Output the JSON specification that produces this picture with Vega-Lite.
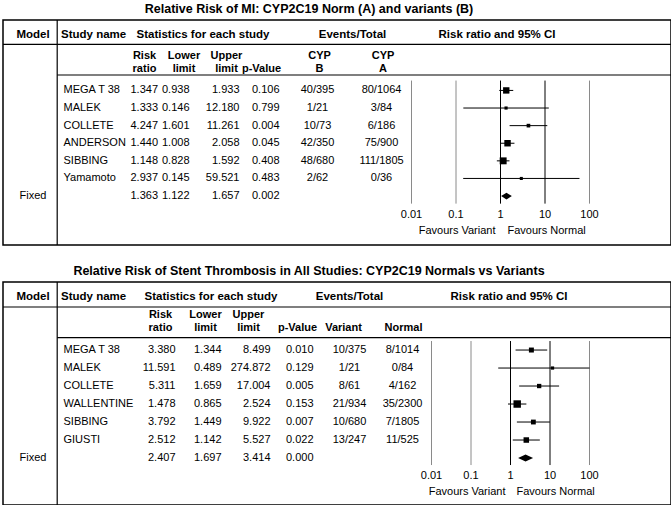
{
  "$schema": "https://vega.github.io/schema/vega-lite/v6.json",
  "background": "white",
  "padding": {"left": 1, "top": 2, "right": 1, "bottom": 1},
  "spacing": 17,
  "config": {
    "font": "Liberation Sans",
    "view": {"stroke": "black", "strokeWidth": 1.5},
    "mark": {"color": "black"},
    "text": {"fontSize": 11, "color": "black"},
    "title": {"fontSize": 12.5, "fontWeight": "bold", "color": "black", "anchor": "middle", "offset": 4, "dx": -28}
  },
  "datasets": {
    "one": [{"k": 1}],
    "ticks": [{"v": 0.01}, {"v": 0.1}, {"v": 1}, {"v": 10}, {"v": 100}],
    "mi": [
      {"row": 1, "study": "MEGA T 38", "rr": 1.347, "lower": 0.938, "upper": 1.933, "p": 0.106, "evB": "40/395", "evA": "80/1064", "weight": 29.2},
      {"row": 2, "study": "MALEK", "rr": 1.333, "lower": 0.146, "upper": 12.18, "p": 0.799, "evB": "1/21", "evA": "3/84", "weight": 0.8},
      {"row": 3, "study": "COLLETE", "rr": 4.247, "lower": 1.601, "upper": 11.261, "p": 0.004, "evB": "10/73", "evA": "6/186", "weight": 4.0},
      {"row": 4, "study": "ANDERSON", "rr": 1.44, "lower": 1.008, "upper": 2.058, "p": 0.045, "evB": "42/350", "evA": "75/900", "weight": 30.0},
      {"row": 5, "study": "SIBBING", "rr": 1.148, "lower": 0.828, "upper": 1.592, "p": 0.408, "evB": "48/680", "evA": "111/1805", "weight": 35.6},
      {"row": 6, "study": "Yamamoto", "rr": 2.937, "lower": 0.145, "upper": 59.521, "p": 0.483, "evB": "2/62", "evA": "0/36", "weight": 0.4},
      {"row": 7, "model": "Fixed", "rr": 1.363, "lower": 1.122, "upper": 1.657, "p": 0.002}
    ],
    "st": [
      {"row": 1, "study": "MEGA T 38", "rr": 3.38, "lower": 1.344, "upper": 8.499, "p": 0.01, "variant": "10/375", "normal": "8/1014", "weight": 14.4},
      {"row": 2, "study": "MALEK", "rr": 11.591, "lower": 0.489, "upper": 274.872, "p": 0.129, "variant": "1/21", "normal": "0/84", "weight": 1.2},
      {"row": 3, "study": "COLLETE", "rr": 5.311, "lower": 1.659, "upper": 17.004, "p": 0.005, "variant": "8/61", "normal": "4/162", "weight": 9.0},
      {"row": 4, "study": "WALLENTINE", "rr": 1.478, "lower": 0.865, "upper": 2.524, "p": 0.153, "variant": "21/934", "normal": "35/2300", "weight": 42.6},
      {"row": 5, "study": "SIBBING", "rr": 3.792, "lower": 1.449, "upper": 9.922, "p": 0.007, "variant": "10/680", "normal": "7/1805", "weight": 13.2},
      {"row": 6, "study": "GIUSTI", "rr": 2.512, "lower": 1.142, "upper": 5.527, "p": 0.022, "variant": "13/247", "normal": "11/525", "weight": 19.6},
      {"row": 7, "model": "Fixed", "rr": 2.407, "lower": 1.697, "upper": 3.414, "p": 0.0}
    ]
  },
  "vconcat": [
    {
      "title": {"text": "Relative Risk of MI: CYP2C19 Norm (A) and variants (B)"},
      "width": 668,
      "height": 225,
      "resolve": {"scale": {"x": "independent"}},
      "layer": [
        {
          "layer": [
            {"data": {"name": "one"}, "mark": {"type": "rule", "strokeWidth": 1.2}, "encoding": {"y": {"datum": -1.61, "type": "quantitative", "scale": {"domain": [-3, 9.78], "reverse": true, "nice": false, "zero": false}, "axis": null}}},
            {"data": {"name": "one"}, "mark": {"type": "rule", "strokeWidth": 1.2}, "encoding": {"x": {"datum": 54.2, "type": "quantitative", "scale": {"domain": [0, 668], "nice": false, "zero": false}, "axis": null}, "x2": {"datum": 668}, "y": {"datum": 0.125, "type": "quantitative", "scale": {"domain": [-3, 9.78], "reverse": true, "nice": false, "zero": false}, "axis": null}}},
            {"data": {"name": "one"}, "mark": {"type": "rule", "strokeWidth": 1.2}, "encoding": {"x": {"datum": 54.2, "type": "quantitative", "scale": {"domain": [0, 668], "nice": false, "zero": false}, "axis": null}}},
            {"data": {"name": "one"}, "mark": {"type": "text", "text": "Model", "fontWeight": "bold", "fontSize": 11.5, "align": "center", "baseline": "middle"}, "encoding": {"x": {"datum": 30, "type": "quantitative", "scale": {"domain": [0, 668], "nice": false, "zero": false}, "axis": null}, "y": {"datum": -2.12, "type": "quantitative", "scale": {"domain": [-3, 9.78], "reverse": true, "nice": false, "zero": false}, "axis": null}}},
            {"data": {"name": "one"}, "mark": {"type": "text", "text": "Study name", "fontWeight": "bold", "fontSize": 11.5, "align": "left", "baseline": "middle"}, "encoding": {"x": {"datum": 58, "type": "quantitative", "scale": {"domain": [0, 668], "nice": false, "zero": false}, "axis": null}, "y": {"datum": -2.12, "type": "quantitative", "scale": {"domain": [-3, 9.78], "reverse": true, "nice": false, "zero": false}, "axis": null}}},
            {"data": {"name": "one"}, "mark": {"type": "text", "text": "Statistics for each study", "fontWeight": "bold", "fontSize": 11.5, "align": "center", "baseline": "middle"}, "encoding": {"x": {"datum": 200, "type": "quantitative", "scale": {"domain": [0, 668], "nice": false, "zero": false}, "axis": null}, "y": {"datum": -2.12, "type": "quantitative", "scale": {"domain": [-3, 9.78], "reverse": true, "nice": false, "zero": false}, "axis": null}}},
            {"data": {"name": "one"}, "mark": {"type": "text", "text": "Events/Total", "fontWeight": "bold", "fontSize": 11.5, "align": "center", "baseline": "middle"}, "encoding": {"x": {"datum": 349.5, "type": "quantitative", "scale": {"domain": [0, 668], "nice": false, "zero": false}, "axis": null}, "y": {"datum": -2.12, "type": "quantitative", "scale": {"domain": [-3, 9.78], "reverse": true, "nice": false, "zero": false}, "axis": null}}},
            {"data": {"name": "one"}, "mark": {"type": "text", "text": "Risk ratio and 95% CI", "fontWeight": "bold", "fontSize": 11.5, "align": "center", "baseline": "middle"}, "encoding": {"x": {"datum": 494, "type": "quantitative", "scale": {"domain": [0, 668], "nice": false, "zero": false}, "axis": null}, "y": {"datum": -2.12, "type": "quantitative", "scale": {"domain": [-3, 9.78], "reverse": true, "nice": false, "zero": false}, "axis": null}}},
            {"data": {"name": "one"}, "mark": {"type": "text", "text": ["Risk", "ratio"], "lineHeight": 13, "fontWeight": "bold", "align": "center", "baseline": "middle"}, "encoding": {"x": {"datum": 141.5, "type": "quantitative", "scale": {"domain": [0, 668], "nice": false, "zero": false}, "axis": null}, "y": {"datum": -0.98, "type": "quantitative", "scale": {"domain": [-3, 9.78], "reverse": true, "nice": false, "zero": false}, "axis": null}}},
            {"data": {"name": "one"}, "mark": {"type": "text", "text": ["Lower", "limit"], "lineHeight": 13, "fontWeight": "bold", "align": "center", "baseline": "middle"}, "encoding": {"x": {"datum": 181, "type": "quantitative", "scale": {"domain": [0, 668], "nice": false, "zero": false}, "axis": null}, "y": {"datum": -0.98, "type": "quantitative", "scale": {"domain": [-3, 9.78], "reverse": true, "nice": false, "zero": false}, "axis": null}}},
            {"data": {"name": "one"}, "mark": {"type": "text", "text": ["Upper", "limit"], "lineHeight": 13, "fontWeight": "bold", "align": "center", "baseline": "middle"}, "encoding": {"x": {"datum": 223.5, "type": "quantitative", "scale": {"domain": [0, 668], "nice": false, "zero": false}, "axis": null}, "y": {"datum": -0.98, "type": "quantitative", "scale": {"domain": [-3, 9.78], "reverse": true, "nice": false, "zero": false}, "axis": null}}},
            {"data": {"name": "one"}, "mark": {"type": "text", "text": "p-Value", "fontWeight": "bold", "align": "center", "baseline": "middle"}, "encoding": {"x": {"datum": 258.5, "type": "quantitative", "scale": {"domain": [0, 668], "nice": false, "zero": false}, "axis": null}, "y": {"datum": -0.244, "type": "quantitative", "scale": {"domain": [-3, 9.78], "reverse": true, "nice": false, "zero": false}, "axis": null}}},
            {"data": {"name": "one"}, "mark": {"type": "text", "text": ["CYP", "B"], "lineHeight": 13, "fontWeight": "bold", "align": "center", "baseline": "middle"}, "encoding": {"x": {"datum": 316.5, "type": "quantitative", "scale": {"domain": [0, 668], "nice": false, "zero": false}, "axis": null}, "y": {"datum": -0.98, "type": "quantitative", "scale": {"domain": [-3, 9.78], "reverse": true, "nice": false, "zero": false}, "axis": null}}},
            {"data": {"name": "one"}, "mark": {"type": "text", "text": ["CYP", "A"], "lineHeight": 13, "fontWeight": "bold", "align": "center", "baseline": "middle"}, "encoding": {"x": {"datum": 380, "type": "quantitative", "scale": {"domain": [0, 668], "nice": false, "zero": false}, "axis": null}, "y": {"datum": -0.98, "type": "quantitative", "scale": {"domain": [-3, 9.78], "reverse": true, "nice": false, "zero": false}, "axis": null}}},
            {"data": {"name": "mi"}, "transform": [{"filter": "datum.model"}], "mark": {"type": "text", "align": "center", "baseline": "middle"}, "encoding": {"x": {"datum": 30, "type": "quantitative", "scale": {"domain": [0, 668], "nice": false, "zero": false}, "axis": null}, "y": {"field": "row", "type": "quantitative", "scale": {"domain": [-3, 9.78], "reverse": true, "nice": false, "zero": false}, "axis": null}, "text": {"field": "model"}}},
            {"data": {"name": "mi"}, "transform": [{"filter": "datum.study"}], "mark": {"type": "text", "align": "left", "baseline": "middle"}, "encoding": {"x": {"datum": 60.5, "type": "quantitative", "scale": {"domain": [0, 668], "nice": false, "zero": false}, "axis": null}, "y": {"field": "row", "type": "quantitative", "scale": {"domain": [-3, 9.78], "reverse": true, "nice": false, "zero": false}, "axis": null}, "text": {"field": "study"}}},
            {"data": {"name": "mi"}, "mark": {"type": "text", "align": "right", "baseline": "middle"}, "encoding": {"x": {"datum": 155, "type": "quantitative", "scale": {"domain": [0, 668], "nice": false, "zero": false}, "axis": null}, "y": {"field": "row", "type": "quantitative", "scale": {"domain": [-3, 9.78], "reverse": true, "nice": false, "zero": false}, "axis": null}, "text": {"field": "rr", "type": "quantitative", "format": ".3f"}}},
            {"data": {"name": "mi"}, "mark": {"type": "text", "align": "right", "baseline": "middle"}, "encoding": {"x": {"datum": 186.5, "type": "quantitative", "scale": {"domain": [0, 668], "nice": false, "zero": false}, "axis": null}, "y": {"field": "row", "type": "quantitative", "scale": {"domain": [-3, 9.78], "reverse": true, "nice": false, "zero": false}, "axis": null}, "text": {"field": "lower", "type": "quantitative", "format": ".3f"}}},
            {"data": {"name": "mi"}, "mark": {"type": "text", "align": "right", "baseline": "middle"}, "encoding": {"x": {"datum": 236.5, "type": "quantitative", "scale": {"domain": [0, 668], "nice": false, "zero": false}, "axis": null}, "y": {"field": "row", "type": "quantitative", "scale": {"domain": [-3, 9.78], "reverse": true, "nice": false, "zero": false}, "axis": null}, "text": {"field": "upper", "type": "quantitative", "format": ".3f"}}},
            {"data": {"name": "mi"}, "mark": {"type": "text", "align": "right", "baseline": "middle"}, "encoding": {"x": {"datum": 276.5, "type": "quantitative", "scale": {"domain": [0, 668], "nice": false, "zero": false}, "axis": null}, "y": {"field": "row", "type": "quantitative", "scale": {"domain": [-3, 9.78], "reverse": true, "nice": false, "zero": false}, "axis": null}, "text": {"field": "p", "type": "quantitative", "format": ".3f"}}},
            {"data": {"name": "mi"}, "transform": [{"filter": "datum.evB"}], "mark": {"type": "text", "align": "center", "baseline": "middle"}, "encoding": {"x": {"datum": 314.5, "type": "quantitative", "scale": {"domain": [0, 668], "nice": false, "zero": false}, "axis": null}, "y": {"field": "row", "type": "quantitative", "scale": {"domain": [-3, 9.78], "reverse": true, "nice": false, "zero": false}, "axis": null}, "text": {"field": "evB"}}},
            {"data": {"name": "mi"}, "transform": [{"filter": "datum.evA"}], "mark": {"type": "text", "align": "center", "baseline": "middle"}, "encoding": {"x": {"datum": 378.5, "type": "quantitative", "scale": {"domain": [0, 668], "nice": false, "zero": false}, "axis": null}, "y": {"field": "row", "type": "quantitative", "scale": {"domain": [-3, 9.78], "reverse": true, "nice": false, "zero": false}, "axis": null}, "text": {"field": "evA"}}}
          ]
        },
        {
          "layer": [
            {"data": {"name": "ticks"}, "mark": {"type": "rule", "strokeWidth": 1}, "encoding": {"x": {"field": "v", "type": "quantitative", "scale": {"type": "log", "domain": [0.01, 100], "range": [408.5, 586.5], "clamp": true, "nice": false}, "axis": null}, "y": {"datum": 0.44, "type": "quantitative", "scale": {"domain": [-3, 9.78], "reverse": true, "nice": false, "zero": false}, "axis": null}, "y2": {"datum": 7.43}, "color": {"condition": {"test": "datum.v == 1 || datum.v == 10", "value": "#000000"}, "value": "#8a8a8a"}}},
            {"data": {"name": "mi"}, "mark": {"type": "rule", "strokeWidth": 1}, "transform": [{"filter": "datum.study"}], "encoding": {"x": {"field": "lower", "type": "quantitative", "scale": {"type": "log", "domain": [0.01, 100], "range": [408.5, 586.5], "clamp": true, "nice": false}, "axis": null}, "x2": {"field": "upper"}, "y": {"field": "row", "type": "quantitative", "scale": {"domain": [-3, 9.78], "reverse": true, "nice": false, "zero": false}, "axis": null}}},
            {"data": {"name": "mi"}, "mark": {"type": "square", "filled": true, "opacity": 1}, "transform": [{"filter": "datum.study"}], "encoding": {"x": {"field": "rr", "type": "quantitative", "scale": {"type": "log", "domain": [0.01, 100], "range": [408.5, 586.5], "clamp": true, "nice": false}, "axis": null}, "y": {"field": "row", "type": "quantitative", "scale": {"domain": [-3, 9.78], "reverse": true, "nice": false, "zero": false}, "axis": null}, "size": {"field": "weight", "type": "quantitative", "scale": {"domain": [0, 45], "range": [9, 58]}, "legend": null}}},
            {"data": {"name": "mi"}, "mark": {"type": "point", "shape": "M-1,0L0,-0.62L1,0L0,0.62Z", "filled": true, "opacity": 1, "size": 115}, "transform": [{"filter": "datum.model"}], "encoding": {"x": {"field": "rr", "type": "quantitative", "scale": {"type": "log", "domain": [0.01, 100], "range": [408.5, 586.5], "clamp": true, "nice": false}, "axis": null}, "y": {"field": "row", "type": "quantitative", "scale": {"domain": [-3, 9.78], "reverse": true, "nice": false, "zero": false}, "axis": null}}},
            {"data": {"name": "ticks"}, "mark": {"type": "text", "align": "center", "baseline": "middle"}, "encoding": {"x": {"field": "v", "type": "quantitative", "scale": {"type": "log", "domain": [0.01, 100], "range": [408.5, 586.5], "clamp": true, "nice": false}, "axis": null}, "y": {"datum": 8.05, "type": "quantitative", "scale": {"domain": [-3, 9.78], "reverse": true, "nice": false, "zero": false}, "axis": null}, "text": {"field": "v", "type": "quantitative", "format": "~g"}}},
            {"data": {"name": "one"}, "mark": {"type": "text", "text": "Favours Variant", "align": "right", "baseline": "middle", "dx": -5}, "encoding": {"x": {"datum": 1, "type": "quantitative", "scale": {"type": "log", "domain": [0.01, 100], "range": [408.5, 586.5], "clamp": true, "nice": false}, "axis": null}, "y": {"datum": 8.96, "type": "quantitative", "scale": {"domain": [-3, 9.78], "reverse": true, "nice": false, "zero": false}, "axis": null}}},
            {"data": {"name": "one"}, "mark": {"type": "text", "text": "Favours Normal", "align": "left", "baseline": "middle", "dx": 7}, "encoding": {"x": {"datum": 1, "type": "quantitative", "scale": {"type": "log", "domain": [0.01, 100], "range": [408.5, 586.5], "clamp": true, "nice": false}, "axis": null}, "y": {"datum": 8.96, "type": "quantitative", "scale": {"domain": [-3, 9.78], "reverse": true, "nice": false, "zero": false}, "axis": null}}}
          ]
        }
      ]
    },
    {
      "title": {"text": "Relative Risk of Stent Thrombosis in All Studies: CYP2C19 Normals vs Variants"},
      "width": 668,
      "height": 223,
      "resolve": {"scale": {"x": "independent"}},
      "layer": [
        {
          "layer": [
            {"data": {"name": "one"}, "mark": {"type": "rule", "strokeWidth": 1.2}, "encoding": {"y": {"datum": -1.39, "type": "quantitative", "scale": {"domain": [-2.78, 9.61], "reverse": true, "nice": false, "zero": false}, "axis": null}}},
            {"data": {"name": "one"}, "mark": {"type": "rule", "strokeWidth": 1.2}, "encoding": {"x": {"datum": 54.2, "type": "quantitative", "scale": {"domain": [0, 668], "nice": false, "zero": false}, "axis": null}, "x2": {"datum": 668}, "y": {"datum": 0.305, "type": "quantitative", "scale": {"domain": [-2.78, 9.61], "reverse": true, "nice": false, "zero": false}, "axis": null}}},
            {"data": {"name": "one"}, "mark": {"type": "rule", "strokeWidth": 1.2}, "encoding": {"x": {"datum": 54.2, "type": "quantitative", "scale": {"domain": [0, 668], "nice": false, "zero": false}, "axis": null}}},
            {"data": {"name": "one"}, "mark": {"type": "text", "text": "Model", "fontWeight": "bold", "fontSize": 11.5, "align": "center", "baseline": "middle"}, "encoding": {"x": {"datum": 30, "type": "quantitative", "scale": {"domain": [0, 668], "nice": false, "zero": false}, "axis": null}, "y": {"datum": -1.94, "type": "quantitative", "scale": {"domain": [-2.78, 9.61], "reverse": true, "nice": false, "zero": false}, "axis": null}}},
            {"data": {"name": "one"}, "mark": {"type": "text", "text": "Study name", "fontWeight": "bold", "fontSize": 11.5, "align": "left", "baseline": "middle"}, "encoding": {"x": {"datum": 58, "type": "quantitative", "scale": {"domain": [0, 668], "nice": false, "zero": false}, "axis": null}, "y": {"datum": -1.94, "type": "quantitative", "scale": {"domain": [-2.78, 9.61], "reverse": true, "nice": false, "zero": false}, "axis": null}}},
            {"data": {"name": "one"}, "mark": {"type": "text", "text": "Statistics for each study", "fontWeight": "bold", "fontSize": 11.5, "align": "center", "baseline": "middle"}, "encoding": {"x": {"datum": 208, "type": "quantitative", "scale": {"domain": [0, 668], "nice": false, "zero": false}, "axis": null}, "y": {"datum": -1.94, "type": "quantitative", "scale": {"domain": [-2.78, 9.61], "reverse": true, "nice": false, "zero": false}, "axis": null}}},
            {"data": {"name": "one"}, "mark": {"type": "text", "text": "Events/Total", "fontWeight": "bold", "fontSize": 11.5, "align": "center", "baseline": "middle"}, "encoding": {"x": {"datum": 346.5, "type": "quantitative", "scale": {"domain": [0, 668], "nice": false, "zero": false}, "axis": null}, "y": {"datum": -1.94, "type": "quantitative", "scale": {"domain": [-2.78, 9.61], "reverse": true, "nice": false, "zero": false}, "axis": null}}},
            {"data": {"name": "one"}, "mark": {"type": "text", "text": "Risk ratio and 95% CI", "fontWeight": "bold", "fontSize": 11.5, "align": "center", "baseline": "middle"}, "encoding": {"x": {"datum": 506, "type": "quantitative", "scale": {"domain": [0, 668], "nice": false, "zero": false}, "axis": null}, "y": {"datum": -1.94, "type": "quantitative", "scale": {"domain": [-2.78, 9.61], "reverse": true, "nice": false, "zero": false}, "axis": null}}},
            {"data": {"name": "one"}, "mark": {"type": "text", "text": ["Risk", "ratio"], "lineHeight": 13, "fontWeight": "bold", "align": "center", "baseline": "middle"}, "encoding": {"x": {"datum": 157.5, "type": "quantitative", "scale": {"domain": [0, 668], "nice": false, "zero": false}, "axis": null}, "y": {"datum": -0.947, "type": "quantitative", "scale": {"domain": [-2.78, 9.61], "reverse": true, "nice": false, "zero": false}, "axis": null}}},
            {"data": {"name": "one"}, "mark": {"type": "text", "text": ["Lower", "limit"], "lineHeight": 13, "fontWeight": "bold", "align": "center", "baseline": "middle"}, "encoding": {"x": {"datum": 202.5, "type": "quantitative", "scale": {"domain": [0, 668], "nice": false, "zero": false}, "axis": null}, "y": {"datum": -0.947, "type": "quantitative", "scale": {"domain": [-2.78, 9.61], "reverse": true, "nice": false, "zero": false}, "axis": null}}},
            {"data": {"name": "one"}, "mark": {"type": "text", "text": ["Upper", "limit"], "lineHeight": 13, "fontWeight": "bold", "align": "center", "baseline": "middle"}, "encoding": {"x": {"datum": 245.5, "type": "quantitative", "scale": {"domain": [0, 668], "nice": false, "zero": false}, "axis": null}, "y": {"datum": -0.947, "type": "quantitative", "scale": {"domain": [-2.78, 9.61], "reverse": true, "nice": false, "zero": false}, "axis": null}}},
            {"data": {"name": "one"}, "mark": {"type": "text", "text": "p-Value", "fontWeight": "bold", "align": "center", "baseline": "middle"}, "encoding": {"x": {"datum": 294.5, "type": "quantitative", "scale": {"domain": [0, 668], "nice": false, "zero": false}, "axis": null}, "y": {"datum": -0.22, "type": "quantitative", "scale": {"domain": [-2.78, 9.61], "reverse": true, "nice": false, "zero": false}, "axis": null}}},
            {"data": {"name": "one"}, "mark": {"type": "text", "text": "Variant", "fontWeight": "bold", "align": "center", "baseline": "middle"}, "encoding": {"x": {"datum": 340.5, "type": "quantitative", "scale": {"domain": [0, 668], "nice": false, "zero": false}, "axis": null}, "y": {"datum": -0.22, "type": "quantitative", "scale": {"domain": [-2.78, 9.61], "reverse": true, "nice": false, "zero": false}, "axis": null}}},
            {"data": {"name": "one"}, "mark": {"type": "text", "text": "Normal", "fontWeight": "bold", "align": "center", "baseline": "middle"}, "encoding": {"x": {"datum": 400.5, "type": "quantitative", "scale": {"domain": [0, 668], "nice": false, "zero": false}, "axis": null}, "y": {"datum": -0.22, "type": "quantitative", "scale": {"domain": [-2.78, 9.61], "reverse": true, "nice": false, "zero": false}, "axis": null}}},
            {"data": {"name": "st"}, "transform": [{"filter": "datum.model"}], "mark": {"type": "text", "align": "center", "baseline": "middle"}, "encoding": {"x": {"datum": 30, "type": "quantitative", "scale": {"domain": [0, 668], "nice": false, "zero": false}, "axis": null}, "y": {"field": "row", "type": "quantitative", "scale": {"domain": [-2.78, 9.61], "reverse": true, "nice": false, "zero": false}, "axis": null}, "text": {"field": "model"}}},
            {"data": {"name": "st"}, "transform": [{"filter": "datum.study"}], "mark": {"type": "text", "align": "left", "baseline": "middle"}, "encoding": {"x": {"datum": 60.5, "type": "quantitative", "scale": {"domain": [0, 668], "nice": false, "zero": false}, "axis": null}, "y": {"field": "row", "type": "quantitative", "scale": {"domain": [-2.78, 9.61], "reverse": true, "nice": false, "zero": false}, "axis": null}, "text": {"field": "study"}}},
            {"data": {"name": "st"}, "mark": {"type": "text", "align": "right", "baseline": "middle"}, "encoding": {"x": {"datum": 172.5, "type": "quantitative", "scale": {"domain": [0, 668], "nice": false, "zero": false}, "axis": null}, "y": {"field": "row", "type": "quantitative", "scale": {"domain": [-2.78, 9.61], "reverse": true, "nice": false, "zero": false}, "axis": null}, "text": {"field": "rr", "type": "quantitative", "format": ".3f"}}},
            {"data": {"name": "st"}, "mark": {"type": "text", "align": "right", "baseline": "middle"}, "encoding": {"x": {"datum": 218.5, "type": "quantitative", "scale": {"domain": [0, 668], "nice": false, "zero": false}, "axis": null}, "y": {"field": "row", "type": "quantitative", "scale": {"domain": [-2.78, 9.61], "reverse": true, "nice": false, "zero": false}, "axis": null}, "text": {"field": "lower", "type": "quantitative", "format": ".3f"}}},
            {"data": {"name": "st"}, "mark": {"type": "text", "align": "right", "baseline": "middle"}, "encoding": {"x": {"datum": 267.5, "type": "quantitative", "scale": {"domain": [0, 668], "nice": false, "zero": false}, "axis": null}, "y": {"field": "row", "type": "quantitative", "scale": {"domain": [-2.78, 9.61], "reverse": true, "nice": false, "zero": false}, "axis": null}, "text": {"field": "upper", "type": "quantitative", "format": ".3f"}}},
            {"data": {"name": "st"}, "mark": {"type": "text", "align": "right", "baseline": "middle"}, "encoding": {"x": {"datum": 310.5, "type": "quantitative", "scale": {"domain": [0, 668], "nice": false, "zero": false}, "axis": null}, "y": {"field": "row", "type": "quantitative", "scale": {"domain": [-2.78, 9.61], "reverse": true, "nice": false, "zero": false}, "axis": null}, "text": {"field": "p", "type": "quantitative", "format": ".3f"}}},
            {"data": {"name": "st"}, "transform": [{"filter": "datum.variant"}], "mark": {"type": "text", "align": "center", "baseline": "middle"}, "encoding": {"x": {"datum": 346.5, "type": "quantitative", "scale": {"domain": [0, 668], "nice": false, "zero": false}, "axis": null}, "y": {"field": "row", "type": "quantitative", "scale": {"domain": [-2.78, 9.61], "reverse": true, "nice": false, "zero": false}, "axis": null}, "text": {"field": "variant"}}},
            {"data": {"name": "st"}, "transform": [{"filter": "datum.normal"}], "mark": {"type": "text", "align": "center", "baseline": "middle"}, "encoding": {"x": {"datum": 399.5, "type": "quantitative", "scale": {"domain": [0, 668], "nice": false, "zero": false}, "axis": null}, "y": {"field": "row", "type": "quantitative", "scale": {"domain": [-2.78, 9.61], "reverse": true, "nice": false, "zero": false}, "axis": null}, "text": {"field": "normal"}}}
          ]
        },
        {
          "layer": [
            {"data": {"name": "ticks"}, "mark": {"type": "rule", "strokeWidth": 1}, "encoding": {"x": {"field": "v", "type": "quantitative", "scale": {"type": "log", "domain": [0.01, 100], "range": [428.5, 586.5], "clamp": true, "nice": false}, "axis": null}, "y": {"datum": 0.5, "type": "quantitative", "scale": {"domain": [-2.78, 9.61], "reverse": true, "nice": false, "zero": false}, "axis": null}, "y2": {"datum": 7.39}, "color": {"condition": {"test": "datum.v == 1 || datum.v == 10", "value": "#000000"}, "value": "#8a8a8a"}}},
            {"data": {"name": "st"}, "mark": {"type": "rule", "strokeWidth": 1}, "transform": [{"filter": "datum.study"}], "encoding": {"x": {"field": "lower", "type": "quantitative", "scale": {"type": "log", "domain": [0.01, 100], "range": [428.5, 586.5], "clamp": true, "nice": false}, "axis": null}, "x2": {"field": "upper"}, "y": {"field": "row", "type": "quantitative", "scale": {"domain": [-2.78, 9.61], "reverse": true, "nice": false, "zero": false}, "axis": null}}},
            {"data": {"name": "st"}, "mark": {"type": "square", "filled": true, "opacity": 1}, "transform": [{"filter": "datum.study"}], "encoding": {"x": {"field": "rr", "type": "quantitative", "scale": {"type": "log", "domain": [0.01, 100], "range": [428.5, 586.5], "clamp": true, "nice": false}, "axis": null}, "y": {"field": "row", "type": "quantitative", "scale": {"domain": [-2.78, 9.61], "reverse": true, "nice": false, "zero": false}, "axis": null}, "size": {"field": "weight", "type": "quantitative", "scale": {"domain": [0, 45], "range": [9, 58]}, "legend": null}}},
            {"data": {"name": "st"}, "mark": {"type": "point", "shape": "M-1,0L0,-0.47L1,0L0,0.47Z", "filled": true, "opacity": 1, "size": 225}, "transform": [{"filter": "datum.model"}], "encoding": {"x": {"field": "rr", "type": "quantitative", "scale": {"type": "log", "domain": [0.01, 100], "range": [428.5, 586.5], "clamp": true, "nice": false}, "axis": null}, "y": {"field": "row", "type": "quantitative", "scale": {"domain": [-2.78, 9.61], "reverse": true, "nice": false, "zero": false}, "axis": null}}},
            {"data": {"name": "ticks"}, "mark": {"type": "text", "align": "center", "baseline": "middle"}, "encoding": {"x": {"field": "v", "type": "quantitative", "scale": {"type": "log", "domain": [0.01, 100], "range": [428.5, 586.5], "clamp": true, "nice": false}, "axis": null}, "y": {"datum": 8.0, "type": "quantitative", "scale": {"domain": [-2.78, 9.61], "reverse": true, "nice": false, "zero": false}, "axis": null}, "text": {"field": "v", "type": "quantitative", "format": "~g"}}},
            {"data": {"name": "one"}, "mark": {"type": "text", "text": "Favours Variant", "align": "right", "baseline": "middle", "dx": -5}, "encoding": {"x": {"datum": 1, "type": "quantitative", "scale": {"type": "log", "domain": [0.01, 100], "range": [428.5, 586.5], "clamp": true, "nice": false}, "axis": null}, "y": {"datum": 8.9, "type": "quantitative", "scale": {"domain": [-2.78, 9.61], "reverse": true, "nice": false, "zero": false}, "axis": null}}},
            {"data": {"name": "one"}, "mark": {"type": "text", "text": "Favours Normal", "align": "left", "baseline": "middle", "dx": 6}, "encoding": {"x": {"datum": 1, "type": "quantitative", "scale": {"type": "log", "domain": [0.01, 100], "range": [428.5, 586.5], "clamp": true, "nice": false}, "axis": null}, "y": {"datum": 8.9, "type": "quantitative", "scale": {"domain": [-2.78, 9.61], "reverse": true, "nice": false, "zero": false}, "axis": null}}}
          ]
        }
      ]
    }
  ]
}
